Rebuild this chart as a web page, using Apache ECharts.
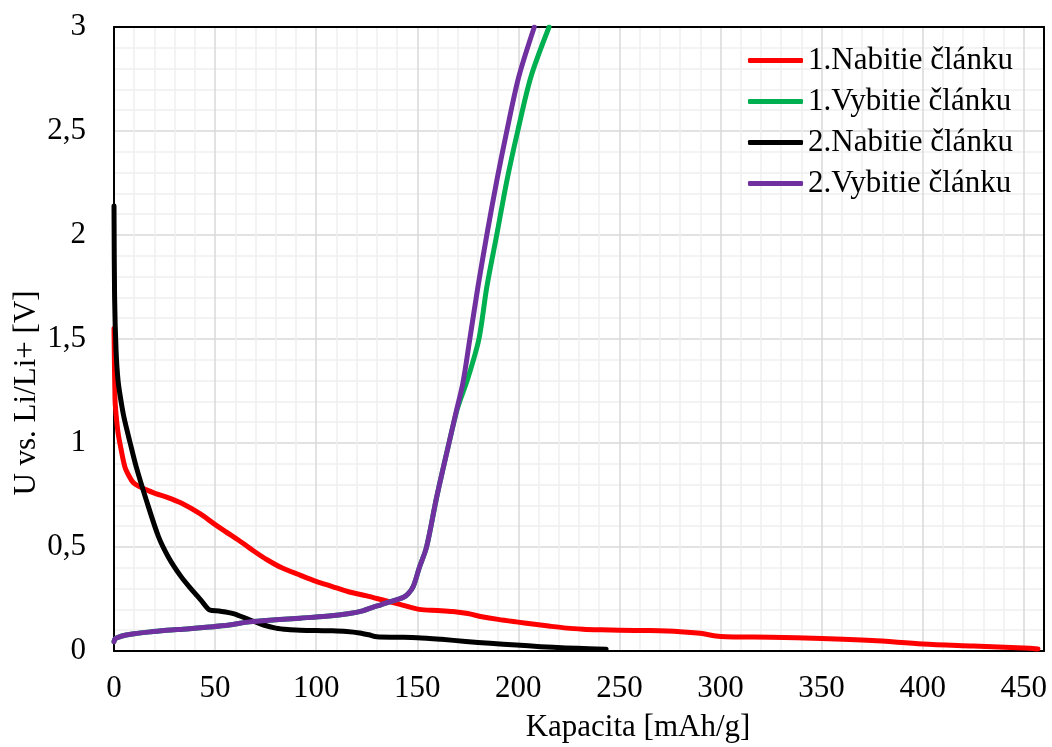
<!DOCTYPE html>
<html>
<head>
<meta charset="utf-8">
<script src="https://cdn.jsdelivr.net/npm/echarts@6/dist/echarts.min.js"></script>
<style>
html,body{margin:0;padding:0;background:#fff;}
#chart{width:1052px;height:747px;}
</style>
</head>
<body>
<div id="chart"></div>
<script>
// ---- Data ----
const seriesNames = ['1.Nabitie článku', '1.Vybitie článku', '2.Nabitie článku', '2.Vybitie článku'];
const xTickValues = [0, 50, 100, 150, 200, 250, 300, 350, 400, 450];
const yTickValues = [0, 0.5, 1, 1.5, 2, 2.5, 3];

const capNabitie1 = [0, 0.5, 1, 2, 3.5, 5.4, 7.5, 9.5, 12.5, 16, 21, 26, 33.5, 42.5, 49, 55, 62, 70, 75.5, 83, 92, 100, 108, 116, 125, 133, 141, 151, 160, 167.6, 175, 182, 190, 199, 207, 215, 224, 232, 241, 250, 265, 280, 290, 300, 325, 350, 375, 400, 425, 450, 457];
const volNabitie1 = [1.55, 1.21, 1.14, 1.05, 0.97, 0.885, 0.84, 0.81, 0.79, 0.775, 0.755, 0.74, 0.71, 0.66, 0.615, 0.575, 0.53, 0.475, 0.44, 0.40, 0.365, 0.335, 0.31, 0.285, 0.265, 0.245, 0.225, 0.20, 0.195, 0.19, 0.18, 0.165, 0.152, 0.14, 0.13, 0.12, 0.11, 0.105, 0.102, 0.10, 0.098, 0.093, 0.085, 0.07, 0.066, 0.06, 0.05, 0.034, 0.024, 0.014, 0.01];

const capVybitie1 = [0, 0.5, 2, 6, 10, 18, 26, 36, 47, 57, 67, 80, 92, 105, 116.5, 123, 128, 132, 136, 140, 143, 145.5, 148, 151, 154.6, 159.5, 165.7, 170, 175, 180.5, 184.4, 189.3, 194.3, 199.7, 206.2, 215.2];
const volVybitie1 = [0.045, 0.058, 0.066, 0.077, 0.083, 0.092, 0.1, 0.106, 0.115, 0.125, 0.14, 0.15, 0.158, 0.167, 0.18, 0.193, 0.21, 0.222, 0.235, 0.247, 0.257, 0.275, 0.31, 0.40, 0.5, 0.735, 1.0, 1.17, 1.31, 1.5, 1.75, 2.0, 2.26, 2.5, 2.76, 3.0];

const capNabitie2 = [0, 0.3, 1, 2, 3.5, 5, 8, 11, 16, 22, 27, 33, 38, 43, 47.4, 52, 59, 67, 74, 80, 86, 92, 100, 108, 115, 121.5, 126, 130, 140, 150, 162, 174, 186, 199, 211, 223.5, 235, 243.4];
const volNabitie2 = [2.14, 1.7, 1.45, 1.3, 1.2, 1.12, 1.0, 0.885, 0.725, 0.55, 0.45, 0.36, 0.3, 0.245, 0.197, 0.192, 0.18, 0.15, 0.125, 0.11, 0.103, 0.1, 0.098, 0.097, 0.094, 0.087, 0.078, 0.068, 0.066, 0.064, 0.056, 0.046, 0.037, 0.029, 0.021, 0.015, 0.011, 0.008];

const capVybitie2 = [0, 0.5, 2, 6, 10, 18, 26, 36, 47, 57, 67, 80, 92, 105, 116.5, 123, 128, 132, 136, 140, 143, 145.5, 148, 151, 154.6, 159.5, 165.7, 169, 172.6, 176, 180, 184.4, 189.3, 194.3, 200.2, 207.9];
const volVybitie2 = [0.045, 0.058, 0.066, 0.077, 0.083, 0.092, 0.1, 0.106, 0.115, 0.125, 0.14, 0.15, 0.158, 0.167, 0.18, 0.193, 0.21, 0.222, 0.235, 0.247, 0.257, 0.275, 0.31, 0.40, 0.5, 0.735, 1.0, 1.14, 1.29, 1.5, 1.75, 2.0, 2.26, 2.5, 2.76, 3.0];

const seriesColors = ['#FF0000', '#00B050', '#000000', '#7030A0'];

// ---- Build ----
function zip(xs, ys) { return xs.map((x, i) => [x, ys[i]]); }
const seriesData = [
  zip(capNabitie1, volNabitie1),
  zip(capVybitie1, volVybitie1),
  zip(capNabitie2, volNabitie2),
  zip(capVybitie2, volVybitie2)
];

const FONT = '"Liberation Serif", "Times New Roman", serif';
const chart = echarts.init(document.getElementById('chart'), null, {renderer: 'canvas'});

const option = {
  backgroundColor: '#ffffff',
  animation: false,
  textStyle: {fontFamily: FONT},
  grid: {left: 114, right: 8, top: 27, bottom: 96, containLabel: false},
  legend: {
    orient: 'vertical',
    left: 743,
    top: 40,
    icon: 'roundRect',
    itemWidth: 55,
    itemHeight: 5,
    itemGap: 10,
    data: seriesNames,
    textStyle: {fontFamily: FONT, fontSize: 31, color: '#000', lineHeight: 31, padding: [0, 0, 0, 0]},
  },
  xAxis: [{
    type: 'value',
    min: 0, max: 460, interval: 50,
    axisLine: {show: true, lineStyle: {color: '#000', width: 2}},
    axisTick: {show: false},
    axisLabel: {
      fontFamily: FONT, fontSize: 31, color: '#000', margin: 22,
      showMaxLabel: false,
      formatter: v => (xTickValues.indexOf(v) >= 0 ? String(v) : '')
    },
    splitLine: {show: true, lineStyle: {color: '#D9D9D9', width: 1.5}},
    minorTick: {show: false, splitNumber: 5},
    minorSplitLine: {show: true, lineStyle: {color: '#F0F0F0', width: 1.5}}
  }, {
    type: 'value', position: 'top', min: 0, max: 460,
    axisLine: {show: true, onZero: false, lineStyle: {color: '#000', width: 2}},
    axisTick: {show: false}, axisLabel: {show: false}, splitLine: {show: false}
  }],
  yAxis: [{
    type: 'value',
    min: 0, max: 3, interval: 0.5,
    axisLine: {show: true, lineStyle: {color: '#000', width: 2}},
    axisTick: {show: false},
    axisLabel: {
      fontFamily: FONT, fontSize: 31, color: '#000', margin: 28,
      formatter: v => (yTickValues.indexOf(v) >= 0 ? String(v).replace('.', ',') : '')
    },
    splitLine: {show: true, lineStyle: {color: '#D9D9D9', width: 1.5}},
    minorTick: {show: false, splitNumber: 5},
    minorSplitLine: {show: true, lineStyle: {color: '#F0F0F0', width: 1.5}}
  }, {
    type: 'value', position: 'right', min: 0, max: 3,
    axisLine: {show: true, onZero: false, lineStyle: {color: '#000', width: 2}},
    axisTick: {show: false}, axisLabel: {show: false}, splitLine: {show: false}
  }],
  graphic: [{
    type: 'text',
    x: 638, y: 728,
    style: {text: 'Kapacita [mAh/g]', font: '31px ' + FONT, fill: '#000', textAlign: 'center', textVerticalAlign: 'middle'}
  }, {
    type: 'text',
    x: 27, y: 393,
    rotation: Math.PI / 2,
    style: {text: 'U vs. Li/Li+ [V]', font: '31px ' + FONT, fill: '#000', textAlign: 'center', textVerticalAlign: 'middle'}
  }],
  series: seriesNames.map((name, i) => ({
    name: name,
    type: 'line',
    data: seriesData[i],
    showSymbol: false,
    symbol: 'none',
    smooth: 0.3,
    clip: true,
    color: seriesColors[i],
    lineStyle: {color: seriesColors[i], width: 5, cap: 'round', join: 'round'},
    z: 3 + i
  }))
};
chart.setOption(option);
</script>
</body>
</html>
